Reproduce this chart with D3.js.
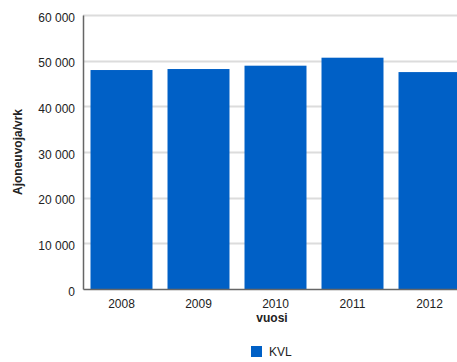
<!DOCTYPE html>
<html>
<head>
<meta charset="utf-8">
<script src="https://cdn.jsdelivr.net/npm/d3@7"></script>
<style>
  body { margin: 0; background: #fff; }
  text { font-family: "Liberation Sans", Arial, sans-serif; fill: #222; }
</style>
</head>
<body>
<div id="chart"></div>
<script>
// chart data
const years = ["2008", "2009", "2010", "2011", "2012"];
const kvl = [47950, 48170, 48900, 50650, 47500];
const yTicks = [0, 10000, 20000, 30000, 40000, 50000, 60000];
const seriesName = "KVL";

const width = 457, height = 362;
const barColor = "#0060c6";

const svg = d3.select("#chart")
  .append("svg")
    .attr("width", width)
    .attr("height", height);

// plot area runs off the right edge, like the original
const x = d3.scaleBand()
    .domain(years)
    .range([83, 468])
    .paddingInner(0.195)
    .paddingOuter(0.0975);

const y = d3.scaleLinear()
    .domain([0, 60000])
    .range([289, 15]);

const fmt = v => d3.format(",")(v).replace(/,/g, " ");

// gridlines
svg.append("g")
  .selectAll("line")
  .data(yTicks.filter(d => d > 0))
  .join("line")
    .attr("x1", 83)
    .attr("x2", width)
    .attr("y1", d => Math.round(y(d)) + 0.5)
    .attr("y2", d => Math.round(y(d)) + 0.5)
    .attr("stroke", "#dcdcdc")
    .attr("stroke-width", 2);

// bars
svg.append("g")
  .selectAll("rect")
  .data(kvl)
  .join("rect")
    .attr("x", (d, i) => x(years[i]))
    .attr("y", d => y(d))
    .attr("width", x.bandwidth())
    .attr("height", d => y(0) - y(d))
    .attr("fill", barColor);

// y axis
const yAxis = svg.append("g")
    .attr("transform", "translate(83,0)")
    .call(d3.axisLeft(y).tickValues(yTicks).tickFormat(fmt).tickSize(0).tickPadding(8));
yAxis.select(".domain").attr("stroke", "#666").attr("stroke-width", 1.5);
yAxis.selectAll("text")
    .attr("font-size", 12)
    .attr("dy", "0.5em")
    .style("font-family", "Liberation Sans, Arial, sans-serif")
    .attr("fill", "#222");

// x axis
const xAxis = svg.append("g")
    .attr("transform", "translate(0,289)")
    .call(d3.axisBottom(x).tickSize(0).tickPadding(10));
xAxis.select(".domain").attr("stroke", "#666").attr("stroke-width", 1.5);
xAxis.selectAll("text")
    .attr("font-size", 12)
    .style("font-family", "Liberation Sans, Arial, sans-serif")
    .attr("fill", "#222");

// axis titles
svg.append("text")
    .attr("x", 272)
    .attr("y", 322)
    .attr("text-anchor", "middle")
    .attr("font-size", 12)
    .attr("font-weight", "bold")
    .text("vuosi");

svg.append("text")
    .attr("transform", "translate(22,152) rotate(-90)")
    .attr("text-anchor", "middle")
    .attr("font-size", 12)
    .attr("font-weight", "bold")
    .text("Ajoneuvoja/vrk");

// legend
const legend = svg.append("g").attr("transform", "translate(251,346)");
legend.append("rect")
    .attr("width", 11)
    .attr("height", 11)
    .attr("fill", barColor);
legend.append("text")
    .attr("x", 18)
    .attr("y", 10)
    .attr("font-size", 12)
    .text(seriesName);
</script>
</body>
</html>
